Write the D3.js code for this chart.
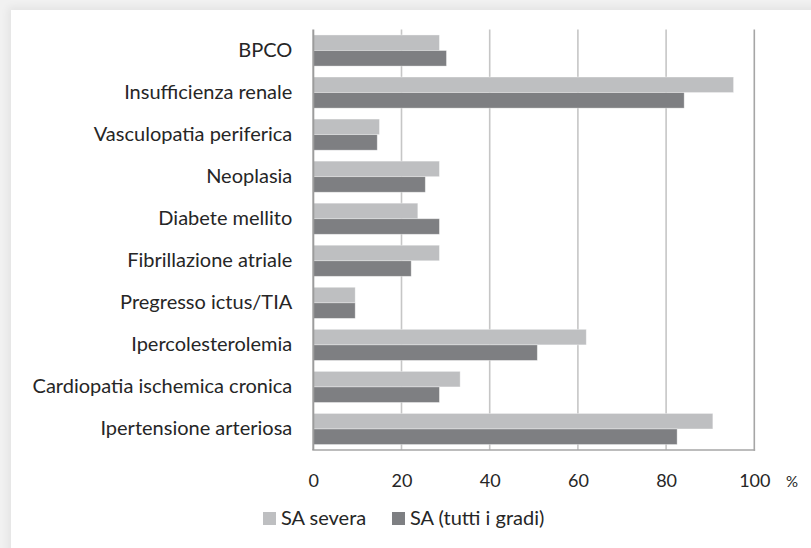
<!DOCTYPE html>
<html>
<head>
<meta charset="utf-8">
<script src="https://cdn.jsdelivr.net/npm/d3@7"></script>
<style>
  html, body { margin: 0; padding: 0; }
  body { width: 811px; height: 548px; background: #f1f1f1; overflow: hidden; position: relative; }
  #card { position: absolute; left: 11px; top: 10px; width: 830px; height: 560px; background: #fff;
          box-shadow: 0 0 8px 3px rgba(0,0,0,0.06); }
  svg { position: absolute; left: 0; top: 0; }
  text { font-family: Lato, "Open Sans", sans-serif; fill: #262626; }
</style>
</head>
<body>
<div id="card"></div>
<svg id="chart" width="811" height="548"></svg>
<script>
const categories = ["BPCO", "Insufficienza renale", "Vasculopatia periferica", "Neoplasia",
  "Diabete mellito", "Fibrillazione atriale", "Pregresso ictus/TIA", "Ipercolesterolemia",
  "Cardiopatia ischemica cronica", "Ipertensione arteriosa"];
const seriesNames = ["SA severa", "SA (tutti i gradi)"];
const saSevera = [28.6, 95.3, 15.0, 28.6, 23.7, 28.6, 9.5, 61.9, 33.3, 90.6];
const saTutti  = [30.2, 84.1, 14.5, 25.4, 28.6, 22.2, 9.5, 50.8, 28.6, 82.5];
const xTicks = [0, 20, 40, 60, 80, 100];
const colors = ["#bebfc1", "#7e7f82"];

const svg = d3.select("#chart");
const pLeft = 313.3, pRight = 754.3, pTop = 29.5, pBottom = 450;

const x = d3.scaleLinear().domain([0, 100]).range([pLeft, pRight]);
const y0 = d3.scaleBand().domain(categories).range([pTop, pBottom]).paddingInner(0.26).paddingOuter(0.13);
const y1 = d3.scaleBand().domain(seriesNames).range([0, y0.bandwidth()]);

// gridlines
svg.append("g").selectAll("line").data(xTicks.slice(1, -1)).join("line")
  .attr("x1", d => x(d)).attr("x2", d => x(d))
  .attr("y1", pTop).attr("y2", pBottom)
  .attr("stroke", "#c6c6c6").attr("stroke-width", 1.6);

// bars
const data = categories.map((c, i) => ({ c, vals: [saSevera[i], saTutti[i]] }));
const groups = svg.append("g").selectAll("g").data(data).join("g")
  .attr("transform", d => `translate(0,${y0(d.c)})`);
groups.selectAll("rect").data(d => d.vals.map((v, j) => ({ v, j }))).join("rect")
  .attr("x", x(0))
  .attr("y", d => y1(seriesNames[d.j]))
  .attr("width", d => x(d.v) - x(0))
  .attr("height", y1.bandwidth())
  .attr("fill", d => colors[d.j])
  .attr("stroke", "rgba(255,255,255,0.45)")
  .attr("stroke-width", 0.8);

// plot border (right, bottom)
svg.append("line").attr("x1", pRight).attr("x2", pRight).attr("y1", pTop).attr("y2", pBottom + 0.8)
  .attr("stroke", "#a6a6a6").attr("stroke-width", 1.6);
svg.append("line").attr("x1", pLeft - 1).attr("x2", pRight + 0.8).attr("y1", pBottom).attr("y2", pBottom)
  .attr("stroke", "#a6a6a6").attr("stroke-width", 1.6);
// left axis line
svg.append("line").attr("x1", pLeft).attr("x2", pLeft).attr("y1", pTop).attr("y2", pBottom)
  .attr("stroke", "#9c9c9c").attr("stroke-width", 2);

// x axis labels
const xAxis = d3.axisBottom(x).tickValues(xTicks).tickSize(0).tickPadding(0);
const gx = svg.append("g").attr("transform", `translate(0,${pBottom})`).call(xAxis);
gx.select(".domain").remove();
gx.selectAll("text").attr("y", 37).attr("dy", 0)
  .style("font-family", "Lato, 'Open Sans', sans-serif").style("font-size", "18px").attr("fill", "#262626");
svg.append("text").attr("x", 792).attr("y", 487).attr("text-anchor", "middle")
  .style("font-size", "15px").text("%");

// y axis labels
const yAxis = d3.axisLeft(y0).tickSize(0).tickPadding(21);
const gy = svg.append("g").attr("transform", `translate(${pLeft},0)`).call(yAxis);
gy.select(".domain").remove();
gy.selectAll("text").style("font-family", "Lato, 'Open Sans', sans-serif")
  .style("font-size", "20px").attr("fill", "#262626");

// legend
const legendX = [263, 392];
const lg = svg.append("g").selectAll("g").data(seriesNames).join("g")
  .attr("transform", (d, i) => `translate(${legendX[i]},512)`);
lg.append("rect").attr("width", 13).attr("height", 13).attr("fill", (d, i) => colors[i]);
lg.append("text").attr("x", 18).attr("y", 13).style("font-size", "20px").text(d => d);
</script>
</body>
</html>
